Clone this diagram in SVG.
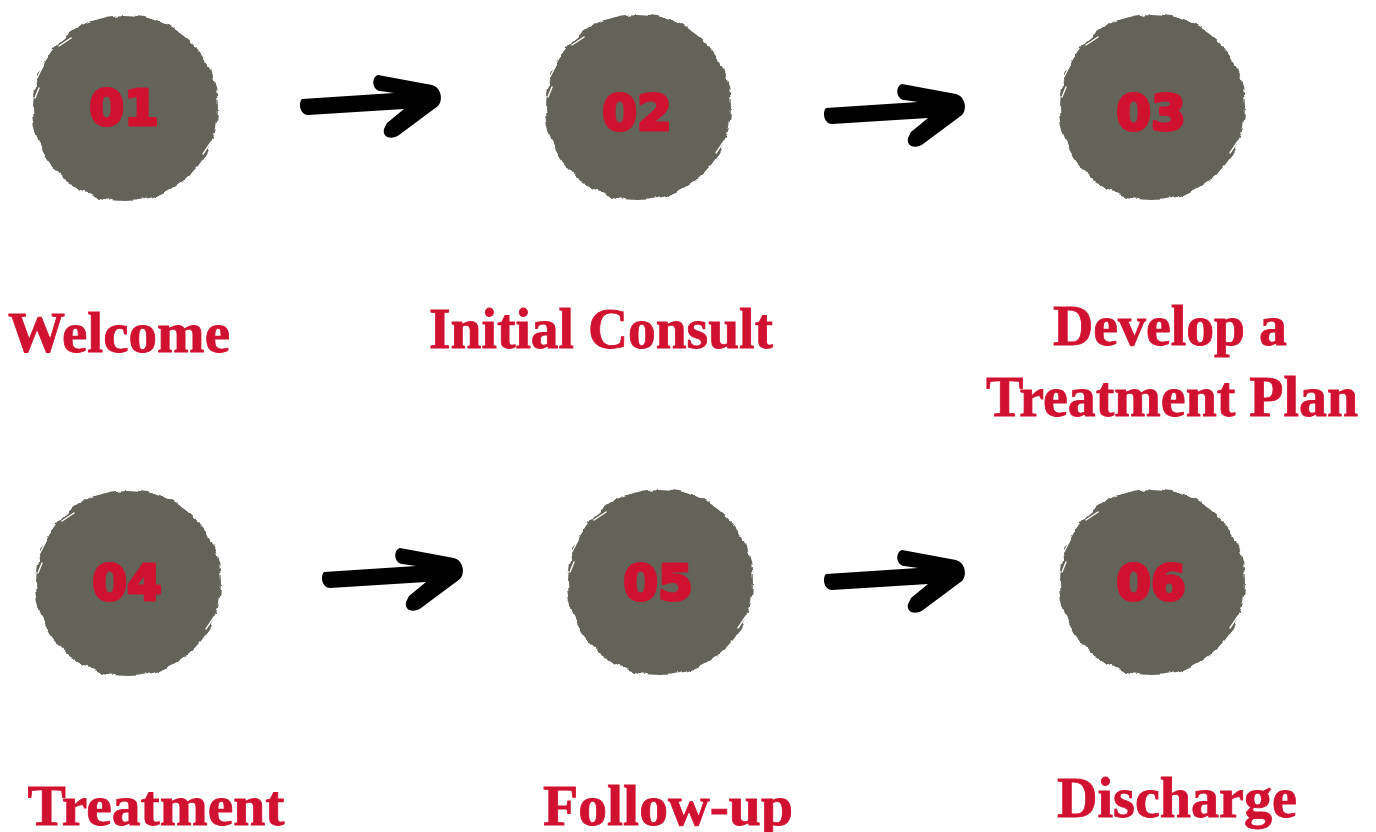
<svg xmlns="http://www.w3.org/2000/svg" xmlns:xlink="http://www.w3.org/1999/xlink" width="1376" height="832" viewBox="0 0 1376 832">
<style>
.num{font-family:"DejaVu Sans",sans-serif;font-weight:bold;font-size:50px;fill:#d01230;stroke:#d01230;stroke-width:3.2;stroke-linejoin:round;text-anchor:middle}
.lbl{font-family:"Liberation Serif","Times New Roman",serif;font-weight:bold;font-size:58px;fill:#d01230;stroke:#d01230;stroke-width:0.8;text-anchor:middle}
.arrow{fill:#000}
</style>
<defs>
<filter id="rough" x="-20%" y="-20%" width="140%" height="140%">
<feTurbulence type="fractalNoise" baseFrequency="0.07" numOctaves="3" seed="4" result="n"/>
<feDisplacementMap in="SourceGraphic" in2="n" scale="7" xChannelSelector="R" yChannelSelector="G"/>
</filter>
<g id="blob">
<circle cx="0" cy="0" r="93" fill="#64635a" filter="url(#rough)"/>
<g stroke="#fff" stroke-width="1.4" stroke-linecap="round" fill="none">
<path d="M-88,-30 L-82,-42"/>
<path d="M-66,-62 L-54,-70"/>
<path d="M-90,-10 L-86,-20"/>
<path d="M78,46 L86,34"/>
</g>
</g>
<path id="arr" d="M302,99 L394,93 L380,91 C372,90 371,77 378,75 L432,85 C442,88 443,101 438,106 L399,135 C392,140 382,138 384,129 L387,123 L404,109 L308,115 C300,115 298,103 302,99 Z"/>
</defs>

<g id="connectors" class="arrow">
<use xlink:href="#arr" href="#arr"/>
<use xlink:href="#arr" href="#arr" transform="translate(524,9)"/>
<use xlink:href="#arr" href="#arr" transform="translate(22,473)"/>
<use xlink:href="#arr" href="#arr" transform="translate(524,475)"/>
</g>

<g id="node1">
<use href="#blob" xlink:href="#blob" transform="translate(125,108)"/>
<text class="num" x="124" y="125">01</text>
<text class="lbl" x="119" y="352" textLength="222" lengthAdjust="spacingAndGlyphs">Welcome</text>
</g>
<g id="node2">
<use href="#blob" xlink:href="#blob" transform="translate(638,107)"/>
<text class="num" x="637" y="130">02</text>
<text class="lbl" x="601" y="348" textLength="344" lengthAdjust="spacingAndGlyphs">Initial Consult</text>
</g>
<g id="node3">
<use href="#blob" xlink:href="#blob" transform="translate(1152,107)"/>
<text class="num" x="1151" y="130">03</text>
<text class="lbl" x="1170" y="345" textLength="234" lengthAdjust="spacingAndGlyphs">Develop a</text>
<text class="lbl" x="1172" y="416" textLength="372" lengthAdjust="spacingAndGlyphs">Treatment Plan</text>
</g>
<g id="node4">
<use href="#blob" xlink:href="#blob" transform="translate(128,583)"/>
<text class="num" x="127" y="600">04</text>
<text class="lbl" x="156" y="825" textLength="257" lengthAdjust="spacingAndGlyphs">Treatment</text>
</g>
<g id="node5">
<use href="#blob" xlink:href="#blob" transform="translate(660,582)"/>
<text class="num" x="658" y="600">05</text>
<text class="lbl" x="668" y="825" textLength="250" lengthAdjust="spacingAndGlyphs">Follow-up</text>
</g>
<g id="node6">
<use href="#blob" xlink:href="#blob" transform="translate(1152,582)"/>
<text class="num" x="1151" y="600">06</text>
<text class="lbl" x="1177" y="817" textLength="240" lengthAdjust="spacingAndGlyphs">Discharge</text>
</g>
</svg>
